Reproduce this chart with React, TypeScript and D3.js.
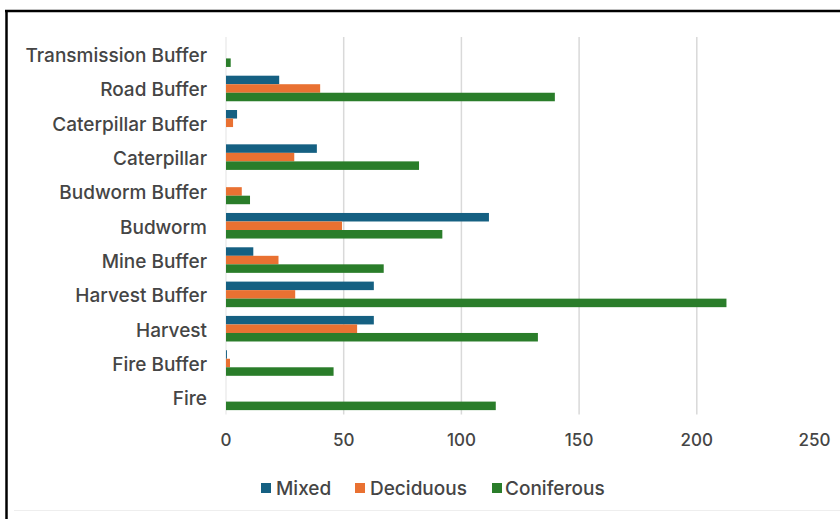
import React from "react";
import * as d3 from "d3";

const categories = [
  "Transmission Buffer",
  "Road Buffer",
  "Caterpillar Buffer",
  "Caterpillar",
  "Budworm Buffer",
  "Budworm",
  "Mine Buffer",
  "Harvest Buffer",
  "Harvest",
  "Fire Buffer",
  "Fire",
];
const seriesNames = ["Mixed", "Deciduous", "Coniferous"];
const mixed = [0, 22.6, 4.7, 38.6, 0, 111.7, 11.6, 62.8, 62.8, 0.4, 0];
const deciduous = [0, 40, 3, 29, 6.7, 49.3, 22.3, 29.4, 55.7, 1.7, 0];
const coniferous = [2, 139.7, 0, 82, 10.2, 91.9, 67, 212.6, 132.5, 45.7, 114.6];
const xTicks = [0, 50, 100, 150, 200, 250];
const colors = ["#156082", "#E97132", "#2A7D2A"];

const W = 840;
const H = 519;
const FONT = "Inter, 'Open Sans', sans-serif";

export default function App() {
  const values = [mixed, deciduous, coniferous];
  const x = d3.scaleLinear().domain([0, 250]).range([226, 814.5]);
  const y = d3.scaleBand().domain(categories).range([37, 414.5]).paddingInner(0.255).paddingOuter(0.1275);
  const inner = d3.scaleBand().domain(seriesNames).range([0, y.bandwidth()]);

  const legendItems = [
    { name: "Mixed", sx: 261, tx: 276 },
    { name: "Deciduous", sx: 355, tx: 370 },
    { name: "Coniferous", sx: 492, tx: 505 },
  ];

  return (
    <svg
      width={W}
      height={H}
      style={{ position: "absolute", left: 0, top: 0, display: "block", background: "#fff" }}
    >
      <rect x={0} y={0} width={W} height={H} fill="#fff" />
      <line x1={14} x2={W} y1={510.5} y2={510.5} stroke="#eeeeee" strokeWidth={1} />
      {xTicks.slice(1, 5).map((t) => (
        <line key={t} x1={x(t)} x2={x(t)} y1={37} y2={414.5} stroke="#d9d9d9" strokeWidth={1.5} />
      ))}
      <line x1={x(0)} x2={x(0)} y1={37} y2={414.5} stroke="#e3e3e3" strokeWidth={1} />
      {categories.map((c, i) => (
        <g key={c}>
          {seriesNames.map((s, j) => {
            const v = values[j][i];
            if (v <= 0) return null;
            return (
              <rect
                key={s}
                x={x(0)}
                y={(y(c) as number) + (inner(s) as number)}
                width={x(v) - x(0)}
                height={inner.bandwidth()}
                fill={colors[j]}
              />
            );
          })}
          <text
            x={207}
            y={(y(c) as number) + y.bandwidth() / 2 + 1.5}
            textAnchor="end"
            dominantBaseline="central"
            fontFamily={FONT}
            fontSize={19}
            fontWeight={500}
            fill="#454545"
          >
            {c}
          </text>
        </g>
      ))}
      {xTicks.map((t) => (
        <text
          key={t}
          x={x(t)}
          y={440}
          textAnchor="middle"
          dominantBaseline="central"
          fontFamily={FONT}
          fontSize={17}
          fontWeight={500}
          fill="#454545"
        >
          {t}
        </text>
      ))}
      {legendItems.map((l, i) => (
        <g key={l.name}>
          <rect x={l.sx} y={483} width={10} height={10} fill={colors[i]} />
          <text
            x={l.tx}
            y={488.5}
            dominantBaseline="central"
            fontFamily={FONT}
            fontSize={19}
            fontWeight={500}
            fill="#454545"
          >
            {l.name}
          </text>
        </g>
      ))}
      <line x1={6.5} x2={6.5} y1={10} y2={H} stroke="#000" strokeWidth={2.5} />
      <line x1={5} x2={W} y1={11} y2={11} stroke="#000" strokeWidth={2.5} />
    </svg>
  );
}
